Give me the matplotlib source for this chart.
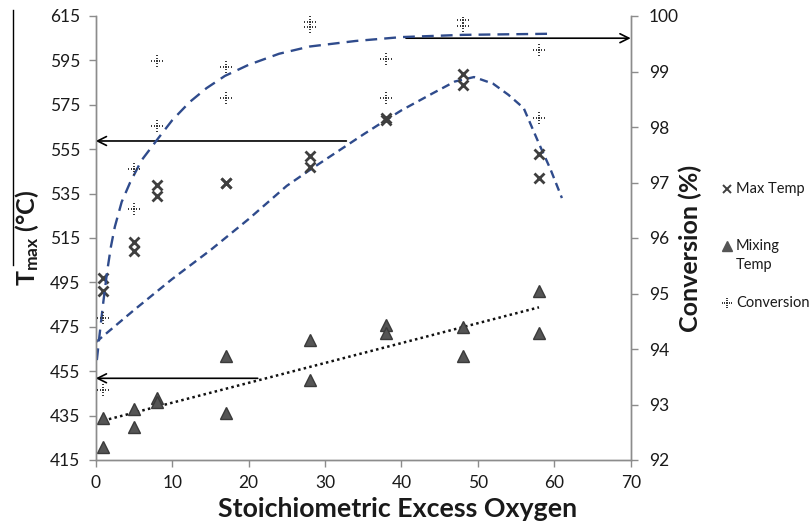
import numpy as np
import matplotlib
matplotlib.use('Agg')
import matplotlib.pyplot as plt
from matplotlib.path import Path
from matplotlib.lines import Line2D

plt.rcParams['font.family'] = ['Lato', 'DejaVu Sans']
plt.rcParams['mathtext.fontset'] = 'custom'
plt.rcParams['mathtext.rm'] = 'Lato'
plt.rcParams['mathtext.bf'] = 'Lato:bold'
plt.rcParams['mathtext.it'] = 'Lato:italic'

# measured points (two runs per oxygen level)
excess_o2 = [1, 1, 5, 5, 8, 8, 17, 17, 28, 28, 38, 38, 48, 48, 58, 58]
max_temp = [497, 491, 513, 509, 539, 534, 540, 540, 552, 547, 569, 568, 589, 584, 553, 542]
mixing_temp = [434, 421, 438, 430, 443, 441, 462, 436, 469, 451, 476, 472, 475, 462, 491, 472]
conversion = [94.55, 93.26, 97.24, 96.52, 99.19, 98.02, 99.09, 98.53,
              99.9, 99.8, 99.23, 98.53, 99.93, 99.82, 99.39, 98.17]

# model curves
max_fit_x = [0, 5, 10, 15, 20, 25, 28, 30, 35, 38, 40, 44, 47, 49.5, 52, 54, 56, 58, 59.5, 61]
max_fit_y = [468, 482.5, 496.5, 509.5, 523.5, 538.5, 545.6, 550.2, 561.6, 568.2,
             572.5, 580, 585.5, 587.5, 584.5, 579.5, 573.5, 557.5, 546, 533]
conv_fit_x = [0.15, 0.5, 1.0, 1.5, 2.0, 2.5, 3.4, 4.5, 6.0, 8.2, 10.0, 12.3, 14.5,
              16.9, 20, 24, 28, 34, 40, 48, 59.5]
conv_fit_y = [93.8, 94.25, 94.85, 95.4, 95.85, 96.2, 96.65, 97.0, 97.4, 97.8, 98.12,
              98.45, 98.7, 98.92, 99.12, 99.32, 99.45, 99.55, 99.62, 99.66, 99.68]

# arrows: (start x, end x, y on left axis)
arrows = [(32.8, 0, 558.7), (21.2, 0, 451.8), (40.6, 70, 605.0)]

x_ticks = np.arange(0, 71, 10)
left_ticks = np.arange(415, 616, 20)
right_ticks = np.arange(92, 101, 1)

legend_labels = ['Max Temp', 'Mixing\nTemp', 'Conversion']


def dot_plus():
    # plus sign made of separate little dots
    verts, codes = [], []
    for cx, cy, s in [(0, 0, 0.9), (2.5, 0, 0.7), (-2.5, 0, 0.7), (5, 0, 0.7), (-5, 0, 0.7),
                      (0, 2.5, 0.7), (0, -2.5, 0.7), (0, 5, 0.7), (0, -5, 0.7)]:
        verts += [(cx - s, cy - s), (cx + s, cy - s), (cx + s, cy + s),
                  (cx - s, cy + s), (cx - s, cy - s)]
        codes += [Path.MOVETO, Path.LINETO, Path.LINETO, Path.LINETO, Path.CLOSEPOLY]
    return Path(verts, codes)


blue = '#2f4b8c'
grey_axis = '#8c8c8c'
txt = '#1a1a1a'
W, H = 810, 523

fig = plt.figure(figsize=(W / 100, H / 100), dpi=100)
ax = fig.add_axes([95.7 / W, 1 - 460 / H, 535 / W, 444 / H])
ax2 = ax.twinx()

# trend lines
ax.plot(max_fit_x, max_fit_y, color=blue, lw=1.7, dashes=(3.5, 2.2), zorder=2)
ax2.plot(conv_fit_x, conv_fit_y, color=blue, lw=1.7, dashes=(5, 3), zorder=2)
coef = np.polyfit(excess_o2, mixing_temp, 1)
lx = np.array([1, 58])
ax.plot(lx, np.polyval(coef, lx), color='#111111', lw=1.8, ls=(0, (1, 1.3)), zorder=2)

# points
ax.plot(excess_o2, max_temp, 'x', color='#3f3f3f', ms=7, mew=2, ls='none', zorder=4)
ax.plot(excess_o2, mixing_temp, '^', color='#555555', mec='#3a3a3a', ms=8, ls='none', zorder=4)
ax2.plot(excess_o2, conversion, marker=dot_plus(), color='#3a3a3a', mew=0, ms=8.6,
         ls='none', zorder=4)

for x0, x1, y in arrows:
    ax.annotate('', xy=(x1, y), xytext=(x0, y),
                arrowprops=dict(arrowstyle='->', color='black', lw=1.2,
                                shrinkA=0, shrinkB=0, mutation_scale=16),
                annotation_clip=False, zorder=5)

ax.set_xlim(0, 70)
ax.set_ylim(415, 615)
ax2.set_ylim(92, 100)
ax.set_xticks(x_ticks)
ax.set_yticks(left_ticks)
ax2.set_yticks(right_ticks)

for a in (ax, ax2):
    a.spines['top'].set_visible(False)
    for sp in ('left', 'right', 'bottom'):
        a.spines[sp].set_color(grey_axis)
        a.spines[sp].set_linewidth(1.0)
    a.tick_params(colors=grey_axis, labelcolor=txt, labelsize=12.5, length=5, width=1)
ax.tick_params(axis='y', pad=6)
ax2.tick_params(axis='y', pad=8)
ax.tick_params(axis='x', pad=6)

fig.text(398 / W, 1 - 509 / H, 'Stoichiometric Excess Oxygen', ha='center', va='center',
         fontsize=19.3, fontweight='bold', color=txt)
fig.text(27 / W, 1 - 238 / H, r'T$_{\mathbf{max}}$ (°C)', rotation=90, ha='center',
         va='center', fontsize=18, fontweight='bold', color=txt)
fig.add_artist(Line2D([13 / W, 13 / W], [1 - 10 / H, 1 - 265 / H],
                      color='black', lw=1))
fig.text(690 / W, 1 - 248 / H, 'Conversion (%)', rotation=90, ha='center',
         va='center', fontsize=18, fontweight='bold', color=txt)

# legend drawn by hand so the two-line entry lines up like the original
leg_y = [189, 246, 303]
leg_markers = [dict(marker='x', color='#3f3f3f', ms=5.5, mew=1.4),
               dict(marker='^', color='#555555', ms=6.5),
               dict(marker=dot_plus(), color='#3a3a3a', ms=7, mew=0)]
for y, lab, mk in zip(leg_y, legend_labels, leg_markers):
    fig.add_artist(Line2D([727 / W], [1 - y / H], ls='none', **mk))
    first, *rest = lab.split('\n')
    fig.text(736 / W, 1 - y / H, first, ha='left', va='center', fontsize=10.5, color=txt)
    for i, line in enumerate(rest):
        fig.text(736 / W, 1 - (y + 19 * (i + 1)) / H, line, ha='left', va='center',
                 fontsize=10.5, color=txt)

fig.savefig('out.png', dpi=100)
